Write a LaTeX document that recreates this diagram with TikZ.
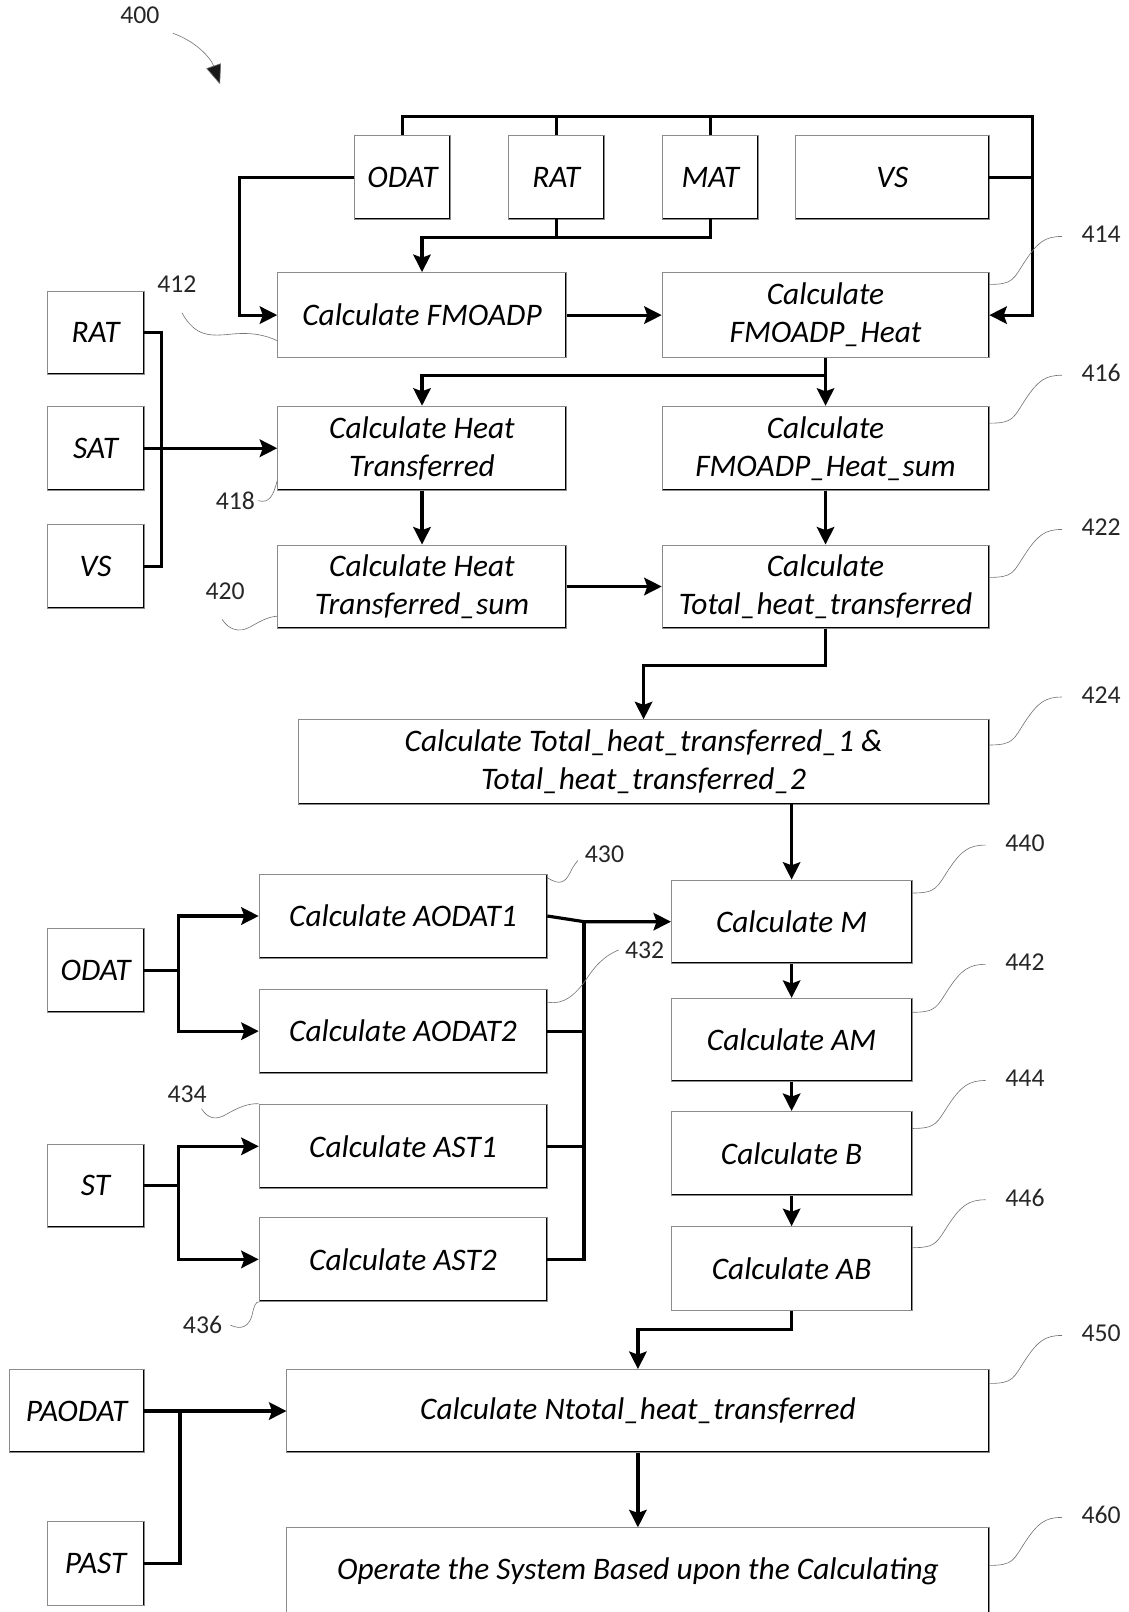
\documentclass[tikz,border=0pt]{standalone}
\usepackage{fontspec}
\setmainfont{Carlito}
\usetikzlibrary{arrows.meta,calc}
\begin{document}
\begin{tikzpicture}[x=1pt,y=-1pt,
  box/.style={draw=black!45, line width=0.7pt, inner sep=2pt, align=center,
    font=\fontsize{30.5}{37}\selectfont\itshape,
    path picture={\draw[black, line width=2.4pt] (path picture bounding box.north east) -- (path picture bounding box.south east) -- (path picture bounding box.south west);}},
  conn/.style={line width=3.1pt, black},
  arr/.style={conn, -{Stealth[width=17pt,length=17pt,inset=3pt]}},
  lead/.style={draw=black!55, line width=0.6pt},
  leadR/.style={lead, to path={.. controls +(24,0) and +(-12,18) .. ($(\tikztostart)!0.5!(\tikztotarget)$) .. controls +(12,-18) and +(-16,0) .. (\tikztotarget)}},
  num/.style={font=\fontsize{25}{28}\selectfont, text=black!85, inner sep=0pt}
]
\useasboundingbox (0,0) rectangle (1098,1568);

% ---------- boxes ----------
\node[box, minimum width=93pt, minimum height=81pt] (odat) at (391.5,172.5) {ODAT};
\node[box, minimum width=94pt, minimum height=81pt] (rat) at (541,172.5) {RAT};
\node[box, minimum width=94pt, minimum height=81pt] (mat) at (691,172.5) {MAT};
\node[box, minimum width=188pt, minimum height=81pt] (vs) at (868,172.5) {VS};
\node[box, minimum width=281pt, minimum height=83pt] (fmo) at (410.5,306.5) {Calculate FMOADP};
\node[box, minimum width=318pt, minimum height=83pt] (fheat) at (803,306.5) {Calculate\\FMOADP\_Heat};
\node[box, minimum width=94pt, minimum height=81pt] (lrat) at (93,323.5) {RAT};
\node[box, minimum width=94pt, minimum height=82pt] (sat) at (93,436) {SAT};
\node[box, minimum width=94pt, minimum height=82pt] (lvs) at (93,551) {VS};
\node[box, minimum width=281pt, minimum height=82pt] (ht) at (410.5,436) {Calculate Heat\\Transferred};
\node[box, minimum width=318pt, minimum height=82pt] (fsum) at (803,436) {Calculate\\FMOADP\_Heat\_sum};
\node[box, minimum width=281pt, minimum height=81pt] (hts) at (410.5,570.5) {Calculate Heat\\Transferred\_sum};
\node[box, minimum width=318pt, minimum height=81pt] (tot) at (803,570.5) {Calculate\\Total\_heat\_transferred};
\node[box, minimum width=672pt, minimum height=82pt] (t12) at (626,741) {Calculate Total\_heat\_transferred\_1 \&\\Total\_heat\_transferred\_2};
\node[box, minimum width=234pt, minimum height=81pt] (m) at (770,896.5) {Calculate M};
\node[box, minimum width=234pt, minimum height=81pt] (am) at (770,1011.5) {Calculate AM};
\node[box, minimum width=234pt, minimum height=82pt] (b) at (770,1122) {Calculate B};
\node[box, minimum width=234pt, minimum height=82pt] (ab) at (770,1234) {Calculate AB};
\node[box, minimum width=280pt, minimum height=82pt] (a1) at (392,891) {Calculate AODAT1};
\node[box, minimum width=280pt, minimum height=82pt] (a2) at (392,1003) {Calculate AODAT2};
\node[box, minimum width=280pt, minimum height=82pt] (s1) at (392,1115) {Calculate AST1};
\node[box, minimum width=280pt, minimum height=82pt] (s2) at (392,1225) {Calculate AST2};
\node[box, minimum width=94pt, minimum height=82pt] (lodat) at (93,944) {ODAT};
\node[box, minimum width=94pt, minimum height=81pt] (st) at (93,1153.5) {ST};
\node[box, minimum width=683pt, minimum height=81pt] (nt) at (620.5,1372.5) {Calculate Ntotal\_heat\_transferred};
\node[box, minimum width=131pt, minimum height=81pt] (pao) at (74.5,1372.5) {PAODAT};
\node[box, minimum width=94pt, minimum height=82pt] (past) at (93,1521) {PAST};
\node[box, minimum width=683pt, minimum height=84pt] (op) at (620.5,1528) {Operate the System Based upon the Calculating};

% ---------- reference numerals ----------
\node[num] (l400) at (136,15) {400};
\node[num] (l412) at (172,276) {412};
\node[num] (l414) at (1071,228) {414};
\node[num] (l416) at (1071,363) {416};
\node[num] (l418) at (229,487) {418};
\node[num] (l420) at (219,575) {420};
\node[num] (l422) at (1071,513) {422};
\node[num] (l424) at (1071,676) {424};
\node[num] (l430) at (588,831) {430};
\node[num] (l432) at (627,924) {432};
\node[num] (l434) at (182,1064) {434};
\node[num] (l436) at (197,1289) {436};
\node[num] (l440) at (997,820) {440};
\node[num] (l442) at (997,936) {442};
\node[num] (l444) at (997,1049) {444};
\node[num] (l446) at (997,1165) {446};
\node[num] (l450) at (1071,1297) {450};
\node[num] (l460) at (1071,1474) {460};

% ---------- helper coordinates ----------
\coordinate (ytop) at (0,113);
\coordinate (xr) at (1004,0);
\coordinate (y231) at (0,231);
\coordinate (xl) at (233,0);
\coordinate (y365) at (0,365);
\coordinate (xb) at (157,0);
\coordinate (y647) at (0,647);
\coordinate (x174) at (174,0);
\coordinate (x568) at (568,0);
\coordinate (y1293) at (0,1293);
\coordinate (x175) at (175,0);

% ---------- connectors ----------
\draw[arr] (odat.north) |- (xr |- ytop) |- (fheat.east);
\draw[conn] (rat.north) -- (rat.north |- ytop);
\draw[conn] (mat.north) -- (mat.north |- ytop);
\draw[conn] (vs.east) -- (xr |- vs.east);
\draw[arr] (odat.west) -- (xl |- odat.west) |- (fmo.west);
\draw[conn] (rat.south) -- (rat.south |- y231);
\draw[arr] (mat.south) |- (fmo.north |- y231) -- (fmo.north);
\draw[arr] (fmo.east) -- (fheat.west);
\draw[arr] (fheat.south) -- (fsum.north);
\draw[arr] (fheat.south |- y365) -| (ht.north);
\draw[conn] (lrat.east) -| (xb |- lvs.east) -- (lvs.east);
\draw[arr] (sat.east) -- (ht.west);
\draw[arr] (ht.south) -- (hts.north);
\draw[arr] (fsum.south) -- (tot.north);
\draw[arr] (hts.east) -- (tot.west);
\draw[arr] (tot.south) |- (t12.north |- y647) -- (t12.north);
\draw[arr] (m.north |- t12.south) -- (m.north);
\draw[arr] (m.south) -- (am.north);
\draw[arr] (am.south) -- (b.north);
\draw[arr] (b.south) -- (ab.north);
\draw[arr] (lodat.east) -- (x174 |- lodat.east) |- (a1.west);
\draw[arr] (x174 |- lodat.east) |- (a2.west);
\draw[arr] (st.east) -- (x174 |- st.east) |- (s1.west);
\draw[arr] (x174 |- st.east) |- (s2.west);
\draw[arr] (a1.east) -- (x568 |- m.west) -- (m.west);
\draw[conn] (a2.east) -- (x568 |- a2.east);
\draw[conn] (s1.east) -- (x568 |- s1.east);
\draw[conn] (s2.east) -| (x568 |- m.west);
\draw[arr] (ab.south) |- (nt.north |- y1293) -- (nt.north);
\draw[arr] (nt.south) -- (op.north);
\draw[arr] (pao.east) -- (nt.west);
\draw[conn] (past.east) -| (x175 |- pao.east);

% ---------- leader lines ----------
\draw[lead, -{Triangle[width=15pt,length=19pt,fill=black!90]}] ([xshift=13pt,yshift=-9pt]l400.south east) .. controls (190,40) and (205,56) .. (214,82);
\draw[leadR] ([yshift=-12pt]fheat.north east) to ([xshift=-19pt,yshift=-2pt]l414.west);
\draw[leadR] ([yshift=-17pt]fsum.north east) to ([xshift=-19pt,yshift=-2pt]l416.west);
\draw[leadR] ([yshift=-32pt]tot.north east) to ([xshift=-19pt,yshift=-2pt]l422.west);
\draw[leadR] ([yshift=-25pt]t12.north east) to ([xshift=-19pt,yshift=-2pt]l424.west);
\draw[leadR] ([yshift=-13pt]m.north east) to ([xshift=-19pt,yshift=-2pt]l440.west);
\draw[leadR] ([yshift=-14pt]am.north east) to ([xshift=-19pt,yshift=-2pt]l442.west);
\draw[leadR] ([yshift=-17pt]b.north east) to ([xshift=-19pt,yshift=-2pt]l444.west);
\draw[leadR] ([yshift=-21pt]ab.north east) to ([xshift=-19pt,yshift=-2pt]l446.west);
\draw[leadR] ([yshift=-14pt]nt.north east) to ([xshift=-19pt,yshift=-2pt]l450.west);
\draw[leadR] ([yshift=-37pt]op.north east) to ([xshift=-19pt,yshift=-2pt]l460.west);
\draw[lead] ([xshift=5pt,yshift=-20pt]l412.south) .. controls (190,328) and (205,327) .. (225,325) .. controls (245,323) and (258,326) .. ([yshift=17pt]fmo.south west);
\draw[lead] ([xshift=3pt]l418.east) .. controls (262,490) and (266,482) .. ([yshift=10pt]ht.south west);
\draw[lead] ([xshift=-3pt,yshift=-19pt]l420.south) .. controls (222,612) and (232,616) .. (243,610) .. controls (252,605) and (260,600) .. ([yshift=12pt]hts.south west);
\draw[lead] ([xshift=14pt,yshift=-6pt]l434.south) .. controls (202,1088) and (210,1090) .. (220,1084) .. controls (232,1077) and (242,1073) .. (s1.north west);
\draw[lead] ([xshift=8pt]l436.east) .. controls (235,1294) and (242,1290) .. (245,1280) .. controls (247,1270) and (249,1266) .. (s2.south west);
\draw[lead] ([yshift=-4pt]a1.north east) .. controls (545,862) and (550,858) .. (555,848) .. controls (558,841) and (562,838) .. ([xshift=-7pt,yshift=-6pt]l430.west);
\draw[lead] ([yshift=-13pt]a2.north east) .. controls (548,978) and (560,968) .. (572,950) .. controls (582,935) and (592,928) .. ([xshift=-6pt]l432.west);
\end{tikzpicture}
\end{document}
